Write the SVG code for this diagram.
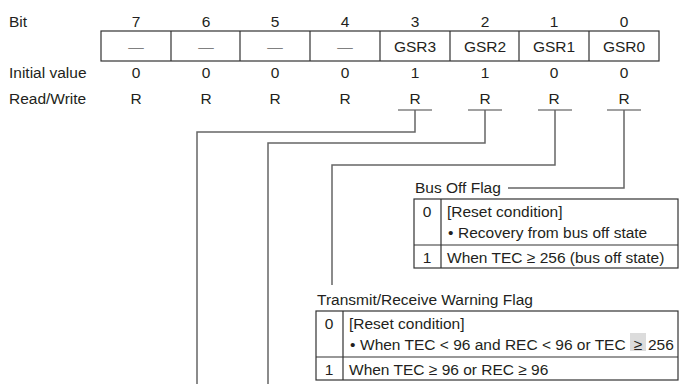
<svg xmlns="http://www.w3.org/2000/svg" width="681" height="384" viewBox="0 0 681 384">
<style>
text{font-family:"Liberation Sans",Arial,sans-serif;font-size:15.5px;fill:#231f20}
.c{text-anchor:middle}
.dash{fill:#808080}
.box{fill:none;stroke:#333;stroke-width:1.2}
.ln{fill:none;stroke:#444;stroke-width:1.2}
.con{fill:none;stroke:#666;stroke-width:1.5}
</style>
<rect width="681" height="384" fill="#fff"/>
<g id="register">
<text x="9" y="27">Bit</text>
<text x="9" y="78">Initial value</text>
<text x="9" y="104">Read/Write</text>
<g class="c">
<text x="136" y="27">7</text><text x="206" y="27">6</text><text x="275" y="27">5</text><text x="345" y="27">4</text>
<text x="415" y="27">3</text><text x="485" y="27">2</text><text x="554" y="27">1</text><text x="624" y="27">0</text>
<text x="136" y="78">0</text><text x="206" y="78">0</text><text x="275" y="78">0</text><text x="345" y="78">0</text>
<text x="415" y="78">1</text><text x="485" y="78">1</text><text x="554" y="78">0</text><text x="624" y="78">0</text>
<text x="136" y="104">R</text><text x="206" y="104">R</text><text x="275" y="104">R</text><text x="345" y="104">R</text>
<text x="415" y="104">R</text><text x="485" y="104">R</text><text x="554" y="104">R</text><text x="624" y="104">R</text>
<text x="136" y="52" class="dash">—</text><text x="206" y="52" class="dash">—</text><text x="275" y="52" class="dash">—</text><text x="345" y="52" class="dash">—</text>
<text x="415" y="52">GSR3</text><text x="485" y="52">GSR2</text><text x="554" y="52">GSR1</text><text x="624" y="52">GSR0</text>
</g>
<rect class="box" x="101" y="31" width="558" height="30"/>
<path class="box" d="M171 31V61M240 31V61M310 31V61M380 31V61M450 31V61M519 31V61M589 31V61"/>
<path class="ln" d="M398 110H432M468 110H502M538 110H572M607 110H641"/>
</g>
<g id="connectors">
<path class="con" d="M415 110V132H197V384"/>
<path class="con" d="M485 110V143H268V384"/>
<path class="con" d="M555 110V165H332V285"/>
<path class="con" d="M624 110V188H508"/>
</g>
<g id="bus-off-flag">
<text x="415" y="193">Bus Off Flag</text>
<rect class="box" x="414" y="199" width="264" height="69"/>
<path class="box" d="M414 245H678M441 199V268"/>
<text x="427" y="216.5" class="c">0</text>
<text x="447" y="216.5">[Reset condition]</text>
<text x="448" y="237.5">•</text>
<text x="458" y="237.5">Recovery from bus off state</text>
<text x="427" y="262.5" class="c">1</text>
<text x="447" y="262.5">When TEC ≥ 256 (bus off state)</text>
</g>
<g id="warning-flag">
<text x="317" y="305">Transmit/Receive Warning Flag</text>
<rect x="630" y="333" width="16" height="18" fill="#dcdcdc"/>
<rect class="box" x="316" y="311" width="362" height="69"/>
<path class="box" d="M316 357H678M343 311V380"/>
<text x="329" y="328.5" class="c">0</text>
<text x="349" y="328.5">[Reset condition]</text>
<text x="350" y="349.5">•</text>
<text x="360" y="349.5">When TEC &lt; 96 and REC &lt; 96 or TEC</text>
<text x="638" y="349.5" class="c">≥</text>
<text x="648" y="349.5">256</text>
<text x="329" y="374.5" class="c">1</text>
<text x="349" y="374.5">When TEC ≥ 96 or REC ≥ 96</text>
</g>
</svg>
